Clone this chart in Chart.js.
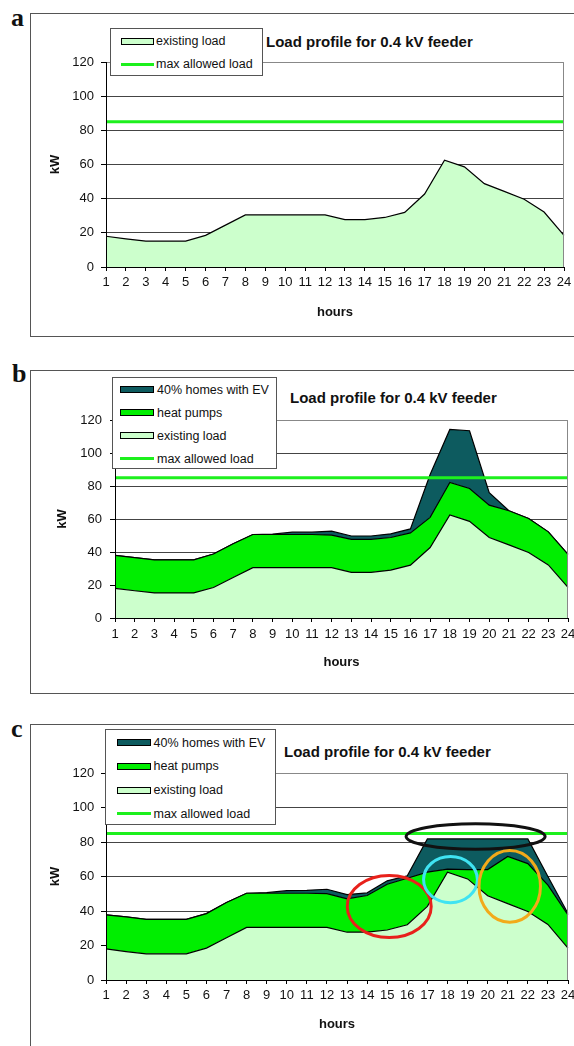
<!DOCTYPE html>
<html>
<head>
<meta charset="utf-8">
<script src="https://cdn.jsdelivr.net/npm/chart.js@4.4.1/dist/chart.umd.min.js"></script>
<style>
  html, body { margin: 0; padding: 0; background: #fff; }
  body { width: 574px; height: 1046px; position: relative; overflow: hidden;
         font-family: "Liberation Sans", Arial, sans-serif; color: #111; }
  .frame { position: absolute; left: 30px; width: 600px; border: 1px solid #555; }
  .letter { position: absolute; font-family: "Liberation Serif", "Times New Roman", serif;
            font-weight: bold; font-size: 26px; line-height: 26px; }
  .title { position: absolute; font-weight: bold; font-size: 15px; line-height: 15px; white-space: nowrap; }
  .legend { position: absolute; background: #fff; border: 1px solid #555; box-sizing: border-box; z-index: 2; }
  .legend .sw { position: absolute; box-sizing: border-box; border: 1.5px solid #000; height: 7px; }
  .legend .ln { position: absolute; height: 3px; }
  .legend .tx { position: absolute; font-size: 12.5px; line-height: 14px; white-space: nowrap; }
  canvas { position: absolute; left: 0; }
</style>
</head>
<body>

<div class="frame" style="top:13px;height:322px"></div>
<div class="frame" style="top:370px;height:322px"></div>
<div class="frame" style="top:724px;height:400px"></div>

<div class="letter" style="left:11px;top:5px">a</div>
<div class="letter" style="left:12px;top:361px">b</div>
<div class="letter" style="left:11px;top:716px">c</div>

<div class="title" style="left:266px;top:34px">Load profile for 0.4 kV feeder</div>
<div class="title" style="left:290px;top:390px">Load profile for 0.4 kV feeder</div>
<div class="title" style="left:284px;top:744px">Load profile for 0.4 kV feeder</div>

<canvas id="chart-a" width="574" height="322" style="top:14px"></canvas>
<canvas id="chart-b" width="574" height="322" style="top:371px"></canvas>
<canvas id="chart-c" width="574" height="321" style="top:725px"></canvas>

<script>
// ── data ───────────────────────────────────────────────────────────────────
const hours = ['1', '2', '3', '4', '5', '6', '7', '8', '9', '10', '11', '12',
               '13', '14', '15', '16', '17', '18', '19', '20', '21', '22', '23', '24'];

// existing load, kW (same in all three panels)
const existingLoad = [18, 16.5, 15.2, 15.2, 15.2, 18.5, 24.5, 30.5, 30.5, 30.5, 30.5, 30.5,
                      27.7, 27.7, 29, 32, 42.7, 62.5, 58.6, 48.8, 44.3, 39.7, 32.2, 18.5];

// panel b: upper edge of the heat pump band and of the EV band, kW
const heatPumpsTopB = [37.9, 36.6, 35.2, 35.2, 35.2, 38.8, 45, 50.6, 50.6, 50.6, 50.6, 50.2,
                       47.6, 47.6, 48.8, 51.6, 61, 82.2, 78.5, 68.4, 65, 60.3, 52.2, 38.5];
const evTopB        = [37.9, 36.6, 35.2, 35.2, 35.2, 38.8, 45, 50.6, 50.8, 52, 52, 52.6,
                       49.7, 49.7, 51, 54, 87, 114.3, 113.5, 75.9, 65, 60.3, 52.2, 38.5];

// panel c: same bands after shifting
const heatPumpsTopC = [37.7, 36.6, 35.2, 35.2, 35.2, 38.5, 44.9, 50.3, 50.3, 50.3, 50.3, 50.1,
                       47, 49, 55.5, 59, 62.5, 64.3, 64, 64, 71.6, 67.5, 55, 37.7];
const evTopC        = [37.7, 36.6, 35.2, 35.2, 35.2, 38.5, 44.9, 50.3, 50.6, 51.8, 52, 52.6,
                       49.5, 50.5, 57.5, 60.4, 81.8, 81.8, 81.8, 81.8, 81.8, 81.8, 60, 38.5];

const maxAllowedLoad = [85, 85, 85, 85, 85, 85, 85, 85, 85, 85, 85, 85,
                        85, 85, 85, 85, 85, 85, 85, 85, 85, 85, 85, 85];

const legendLabels = ['40% homes with EV', 'heat pumps', 'existing load', 'max allowed load'];

// annotation rings in panel c (centre hour / kW, half-width in hours / kW)
const ringHour     = [19.4, 15.1, 18.15, 21.1];
const ringKw       = [83.2, 42.6, 58.2, 54.3];
const ringHalfHour = [3.46, 2.09, 1.34, 1.53];
const ringHalfKw   = [7.4, 18, 13.4, 20.8];
const ringColors   = ['#111111', '#e8211b', '#3fe3f2', '#f2aa1a'];

// ── styles ─────────────────────────────────────────────────────────────────
const LIGHT = '#ccffcc';
const GREEN = '#00ee00';
const TEAL  = '#0d5b5f';
const LIMIT = '#1df01d';

Chart.defaults.font.family = '"Liberation Sans", Arial, sans-serif';
Chart.defaults.font.size = 13;
Chart.defaults.color = '#111';

// gray top/right plot border, black axes on top of the fills
const plotFrame = {
  id: 'plotFrame',
  afterDatasetsDraw(chart) {
    const { ctx, chartArea: a } = chart;
    ctx.save();
    ctx.lineWidth = 1;
    ctx.strokeStyle = '#888';
    ctx.beginPath();
    ctx.moveTo(a.left, Math.round(a.top) + 0.5);
    ctx.lineTo(Math.round(a.right) - 0.5, Math.round(a.top) + 0.5);
    ctx.lineTo(Math.round(a.right) - 0.5, a.bottom);
    ctx.stroke();
    ctx.strokeStyle = '#000';
    ctx.beginPath();
    ctx.moveTo(Math.round(a.left) + 0.5, a.top);
    ctx.lineTo(Math.round(a.left) + 0.5, Math.round(a.bottom) + 0.5);
    ctx.lineTo(a.right, Math.round(a.bottom) + 0.5);
    ctx.stroke();
    ctx.restore();
  }
};

const rings = {
  id: 'rings',
  afterDraw(chart) {
    const { ctx, scales: { x, y } } = chart;
    ctx.save();
    ctx.lineWidth = 3;
    ringHour.forEach((h, i) => {
      const cx = x.getPixelForValue(h - 1);
      const cy = y.getPixelForValue(ringKw[i]);
      const rx = Math.abs(x.getPixelForValue(h - 1 + ringHalfHour[i]) - cx);
      const ry = Math.abs(y.getPixelForValue(ringKw[i] + ringHalfKw[i]) - cy);
      ctx.strokeStyle = ringColors[i];
      ctx.beginPath();
      ctx.ellipse(cx, cy, rx, ry, 0, 0, Math.PI * 2);
      ctx.stroke();
    });
    ctx.restore();
  }
};

function areaSet(label, data, color, fill, order) {
  return {
    label, data, fill, order,
    backgroundColor: color,
    borderColor: '#000',
    borderWidth: 1.2,
    pointRadius: 0,
    tension: 0,
  };
}

function limitSet() {
  return {
    label: legendLabels[3],
    data: maxAllowedLoad,
    fill: false,
    order: 0,
    borderColor: LIMIT,
    borderWidth: 3,
    pointRadius: 0,
  };
}

function panelOptions(g) {
  return {
    responsive: false,
    animation: false,
    events: [],
    layout: { padding: { top: g.padTop, right: g.padRight, bottom: 0, left: 0 } },
    plugins: { legend: { display: false }, tooltip: { enabled: false } },
    scales: {
      x: {
        grid: { drawOnChartArea: false, drawTicks: true, tickLength: 4, color: '#000' },
        border: { display: true, color: '#000' },
        ticks: { autoSkip: false, maxRotation: 0, padding: g.xTickPad, color: '#111' },
        title: { display: true, text: 'hours', color: '#111',
                 font: { size: 13, weight: 'bold' }, padding: { top: 0, bottom: g.hoursPad } },
        afterFit: s => { s.height = g.xAxisH; s.paddingLeft = 0; s.paddingRight = 0; },
      },
      y: {
        min: 0,
        max: 120,
        ticks: { stepSize: 20, padding: g.yTickPad, color: '#111' },
        grid: {
          color: c => (c.tick && c.tick.value === 120 ? '#999' : '#444'),
          tickColor: '#000',
          tickLength: 5,
        },
        border: { display: true, color: '#000' },
        title: { display: true, text: 'kW', color: '#111',
                 font: { size: 13, weight: 'bold' }, padding: { top: g.kwPad, bottom: 0 } },
        afterFit: s => { s.width = g.yAxisW; s.paddingTop = 0; s.paddingBottom = 0; },
      },
    },
  };
}

// ── legends (html boxes laid over the plot) ───────────────────────────────
function buildLegend(box, rows) {
  const el = document.createElement('div');
  el.className = 'legend';
  Object.assign(el.style, {
    left: box.left + 'px', top: box.top + 'px',
    width: box.width + 'px', height: box.height + 'px',
  });
  rows.forEach(r => {
    const sw = document.createElement('div');
    if (r.line) {
      sw.className = 'ln';
      sw.style.background = LIMIT;
      sw.style.top = (r.y - 1.5) + 'px';
    } else {
      sw.className = 'sw';
      sw.style.background = r.color;
      sw.style.top = (r.y - 3.5) + 'px';
    }
    sw.style.left = box.swLeft + 'px';
    sw.style.width = box.swWidth + 'px';
    el.appendChild(sw);

    const tx = document.createElement('div');
    tx.className = 'tx';
    tx.textContent = r.text;
    tx.style.left = box.textLeft + 'px';
    tx.style.top = (r.y - 6.8) + 'px';
    el.appendChild(tx);
  });
  document.body.appendChild(el);
}

buildLegend({ left: 110, top: 28, width: 153, height: 48, swLeft: 10, swWidth: 33, textLeft: 45 }, [
  { text: legendLabels[2], color: LIGHT, y: 12 },
  { text: legendLabels[3], line: true, y: 35 },
]);
buildLegend({ left: 112, top: 377, width: 165, height: 92, swLeft: 7, swWidth: 34, textLeft: 44 }, [
  { text: legendLabels[0], color: TEAL, y: 11.5 },
  { text: legendLabels[1], color: GREEN, y: 34.5 },
  { text: legendLabels[2], color: LIGHT, y: 57.5 },
  { text: legendLabels[3], line: true, y: 80.5 },
]);
buildLegend({ left: 105, top: 729, width: 171, height: 96, swLeft: 11, swWidth: 34, textLeft: 47.5 }, [
  { text: legendLabels[0], color: TEAL, y: 12.5 },
  { text: legendLabels[1], color: GREEN, y: 36 },
  { text: legendLabels[2], color: LIGHT, y: 60 },
  { text: legendLabels[3], line: true, y: 83.5 },
]);

// ── charts ─────────────────────────────────────────────────────────────────
new Chart(document.getElementById('chart-a'), {
  type: 'line',
  data: {
    labels: hours,
    datasets: [
      areaSet(legendLabels[2], existingLoad, LIGHT, 'origin', 1),
      limitSet(),
    ],
  },
  options: panelOptions({ padTop: 48, padRight: 10, yAxisW: 106, xAxisH: 69,
                          xTickPad: 3.5, hoursPad: 16.2, kwPad: 47.2, yTickPad: 7 }),
  plugins: [plotFrame],
});

new Chart(document.getElementById('chart-b'), {
  type: 'line',
  data: {
    labels: hours,
    datasets: [
      areaSet(legendLabels[2], existingLoad, LIGHT, 'origin', 1),
      areaSet(legendLabels[1], heatPumpsTopB, GREEN, '-1', 2),
      areaSet(legendLabels[0], evTopB, TEAL, '-1', 3),
      limitSet(),
    ],
  },
  options: panelOptions({ padTop: 49, padRight: 6, yAxisW: 115, xAxisH: 75,
                          xTickPad: 5, hoursPad: 22.9, kwPad: 54.2, yTickPad: 8 }),
  plugins: [plotFrame],
});

new Chart(document.getElementById('chart-c'), {
  type: 'line',
  data: {
    labels: hours,
    datasets: [
      areaSet(legendLabels[2], existingLoad, LIGHT, 'origin', 1),
      areaSet(legendLabels[1], heatPumpsTopC, GREEN, '-1', 2),
      areaSet(legendLabels[0], evTopC, TEAL, '-1', 3),
      limitSet(),
    ],
  },
  options: panelOptions({ padTop: 48, padRight: 6, yAxisW: 106, xAxisH: 66,
                          xTickPad: 4, hoursPad: 14.2, kwPad: 47.2, yTickPad: 6.7 }),
  plugins: [plotFrame, rings],
});
</script>
</body>
</html>
